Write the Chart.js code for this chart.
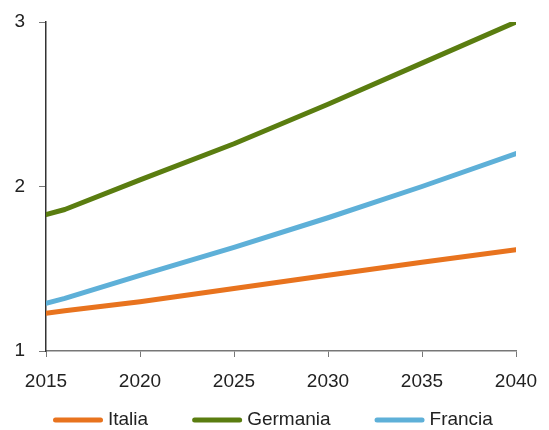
<!DOCTYPE html>
<html lang="it">
<head>
    <meta charset="UTF-8">
    <title>Proiezioni 2015-2040</title>
    <script src="https://cdn.jsdelivr.net/npm/chart.js"></script>
    <style>
        body {
            margin: 0;
            padding: 0;
            background: #fff;
        }
        #wrap {
            width: 549px;
            height: 430px;
        }
    </style>
</head>
<body>
    <div id="wrap">
        <canvas id="myChart" width="549" height="430"></canvas>
    </div>

    <script>
        const years = [2015, 2016, 2020, 2025, 2030, 2035, 2040];
        const italia = [1.23, 1.245, 1.30, 1.38, 1.46, 1.54, 1.615];
        const germania = [1.83, 1.86, 2.04, 2.26, 2.50, 2.75, 3.00];
        const francia = [1.29, 1.32, 1.46, 1.63, 1.81, 2.00, 2.20];

        const xTicks = [2015, 2020, 2025, 2030, 2035, 2040];
        const yTicks = [1, 2, 3];

        const fontFamily = "'Liberation Sans', Arial, sans-serif";
        const fontSize = 19;

        function points(values) {
            return years.map((y, i) => ({ x: y, y: values[i] }));
        }

        function serie(label, values, color) {
            return {
                label: label,
                data: points(values),
                borderColor: color,
                backgroundColor: color,
                borderWidth: 5,
                borderCapStyle: 'round',
                borderJoinStyle: 'round',
                pointRadius: 0,
                tension: 0,
                fill: false
            };
        }

        // legenda in basso: segmento con estremi arrotondati + nome
        const bottomLegend = {
            id: 'bottomLegend',
            afterDraw(chart) {
                const c = chart.ctx;
                const y = 420;
                let x = 53;
                c.save();
                c.font = fontSize + 'px ' + fontFamily;
                c.textBaseline = 'middle';
                c.textAlign = 'left';
                chart.data.datasets.forEach(ds => {
                    c.strokeStyle = ds.borderColor;
                    c.lineWidth = 5;
                    c.lineCap = 'round';
                    c.beginPath();
                    c.moveTo(x + 2.5, y);
                    c.lineTo(x + 47.5, y);
                    c.stroke();
                    c.fillStyle = '#222';
                    c.fillText(ds.label, x + 55, y);
                    x += 55 + c.measureText(ds.label).width + 44;
                });
                c.restore();
            }
        };

        const ctx = document.getElementById('myChart').getContext('2d');
        const myChart = new Chart(ctx, {
            type: 'line',
            data: {
                datasets: [
                    serie('Italia', italia, '#e8731e'),
                    serie('Germania', germania, '#5a7d10'),
                    serie('Francia', francia, '#5eb0d8')
                ]
            },
            options: {
                responsive: false,
                animation: false,
                layout: {
                    padding: { top: 22, right: 33, left: 0, bottom: 0 }
                },
                plugins: {
                    legend: { display: false },
                    tooltip: { enabled: false }
                },
                scales: {
                    x: {
                        type: 'linear',
                        min: xTicks[0],
                        max: xTicks[xTicks.length - 1],
                        afterBuildTicks: (scale) => {
                            scale.ticks = xTicks.map(v => ({ value: v }));
                        },
                        afterFit: (scale) => {
                            scale.height = 79;
                            scale.paddingLeft = 0;
                            scale.paddingRight = 0;
                        },
                        ticks: {
                            color: '#222',
                            padding: 13,
                            maxRotation: 0,
                            autoSkip: false,
                            font: { family: fontFamily, size: fontSize },
                            callback: (v) => String(v)
                        },
                        grid: {
                            drawOnChartArea: false,
                            drawTicks: true,
                            tickLength: 6,
                            color: '#777'
                        },
                        border: { color: '#777', width: 1.5 }
                    },
                    y: {
                        min: yTicks[0],
                        max: yTicks[yTicks.length - 1],
                        afterBuildTicks: (scale) => {
                            scale.ticks = yTicks.map(v => ({ value: v }));
                        },
                        afterFit: (scale) => {
                            scale.width = 46;
                            scale.paddingTop = 0;
                            scale.paddingBottom = 0;
                        },
                        ticks: {
                            color: '#222',
                            padding: 14,
                            font: { family: fontFamily, size: fontSize }
                        },
                        grid: {
                            drawOnChartArea: false,
                            drawTicks: true,
                            tickLength: 7,
                            color: '#777'
                        },
                        border: { color: '#333', width: 1.5 }
                    }
                }
            },
            plugins: [bottomLegend]
        });
    </script>
</body>
</html>
